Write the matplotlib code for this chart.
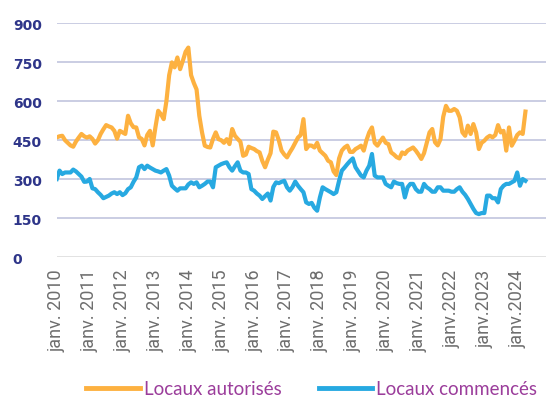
import numpy as np
import matplotlib
matplotlib.use("Agg")
import matplotlib.pyplot as plt

# monthly values, janv. 2010 -> avr. 2024 (one value per month)
autorises = [
    461, 465, 467, 450, 440, 430, 425, 445, 460, 474,
    465, 460, 465, 455, 437, 450, 474, 492, 508, 503,
    499, 486, 456, 486, 480, 474, 544, 515, 500, 499,
    461, 455, 430, 470, 486, 430, 500, 563, 550, 531,
    600, 700, 749, 730, 768, 723, 755, 790, 806, 700,
    670, 645, 544, 480, 429, 424, 422, 455, 480, 454,
    450, 440, 454, 435, 493, 467, 455, 444, 390, 395,
    425, 420, 416, 408, 403, 370, 346, 375, 400, 483,
    480, 450, 410, 395, 384, 403, 420, 440, 460, 470,
    531, 416, 430, 429, 422, 440, 410, 400, 390, 371,
    365, 330, 316, 380, 410, 422, 429, 405, 405, 416,
    422, 429, 410, 450, 480, 499, 440, 429, 445, 460,
    440, 435, 403, 395, 385, 380, 403, 397, 410, 416,
    422, 410, 395, 378, 400, 440, 480, 493, 442, 430,
    454, 540, 582, 563, 563, 570, 563, 538, 480, 467,
    506, 474, 512, 480, 416, 440, 448, 460, 467, 461,
    470, 508, 480, 486, 410, 499, 429, 448, 470, 480,
    474, 560,
]
commences = [
    301, 333, 320, 326, 326, 326, 337, 330, 320, 310,
    290, 291, 301, 265, 262, 250, 240, 227, 232, 237,
    245, 250, 243, 250, 239, 246, 262, 269, 290, 307,
    346, 352, 339, 352, 345, 339, 333, 330, 326, 333,
    339, 314, 275, 265, 256, 265, 265, 265, 280, 288,
    282, 288, 269, 275, 282, 291, 291, 269, 346, 352,
    358, 362, 365, 346, 333, 350, 365, 333, 326, 326,
    320, 262, 256, 245, 237, 224, 235, 245, 218, 270,
    288, 285, 290, 294, 269, 256, 270, 291, 275, 262,
    250, 211, 205, 209, 190, 179, 230, 269, 262, 256,
    250, 243, 250, 294, 333, 345, 358, 370, 380, 346,
    330, 314, 307, 333, 352, 397, 314, 307, 307, 307,
    282, 275, 269, 291, 285, 282, 282, 230, 269, 282,
    282, 262, 252, 252, 282, 269, 262, 252, 252, 269,
    269, 256, 256, 256, 252, 252, 262, 269, 252, 240,
    224, 205, 186, 170, 166, 170, 170, 237, 237, 227,
    227, 211, 262, 275, 282, 282, 288, 294, 326, 275,
    301, 294,
]
tick_labels = ["janv. 2010", "janv. 2011", "janv. 2012", "janv. 2013",
               "janv. 2014", "janv. 2015", "janv. 2016", "janv. 2017",
               "janv. 2018", "janv. 2019", "janv. 2020", "janv. 2021",
               "janv.2022", "janv.2023", "janv.2024"]
y_ticks = [0, 150, 300, 450, 600, 750, 900]

months = np.arange(len(autorises))

fig = plt.figure(figsize=(5.46, 4.02), dpi=100)
ax = fig.add_axes([0.104, 0.3575, 0.896, 0.5825])

# grid lines
for v in y_ticks:
    if v == 0:
        ax.axhline(v, color='#d9d9d9', lw=1.8, zorder=1)
    else:
        ax.axhline(v, color='#c6c9e0', lw=1.3, zorder=1)

ax.plot(months, autorises, color='#fdb140', lw=3.0, label='Locaux autorisés',
        solid_joinstyle='round', zorder=3)
ax.plot(months, commences, color='#27a9e1', lw=3.0, label='Locaux commencés',
        solid_joinstyle='round', zorder=3)

ax.set_xlim(0, 178.5)
ax.set_ylim(0, 900)
ax.set_yticks(y_ticks)
ax.set_yticklabels([str(v) for v in y_ticks], color='#2e3589',
                   fontsize=10, fontweight='bold', ha='left')
ax.set_xticks(np.arange(len(tick_labels)) * 12)
ax.set_xticklabels(tick_labels, rotation=90, color='#6e6e6e', fontsize=13,
                   family='Roboto', fontweight='normal', va='top', ha='center')
ax.tick_params(axis='both', length=0)
ax.tick_params(axis='y', pad=31.7)
ax.tick_params(axis='x', pad=8)
for s in ax.spines.values():
    s.set_visible(False)

leg = fig.legend(loc='center', bbox_to_anchor=(0.571, 0.03), ncol=2,
                 frameon=False, handlelength=2.85, handletextpad=0.2,
                 columnspacing=2.0, prop={'family': 'Lato', 'size': 13.5})
for t in leg.get_texts():
    t.set_color('#9b3d9b')
for h in leg.get_lines():
    h.set_linewidth(3.5)

fig.savefig('out.png', dpi=100)
